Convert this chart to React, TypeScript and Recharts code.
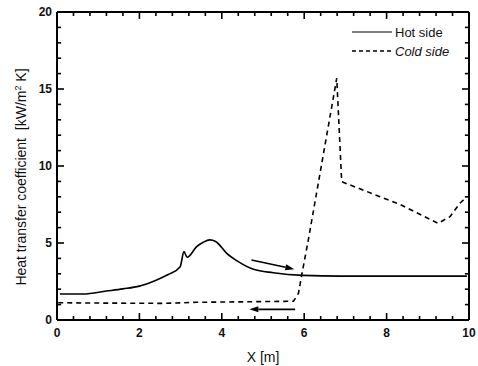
import React from "react";
import { LineChart, Line, XAxis, YAxis, ReferenceLine } from "recharts";

// hot side (solid)
const hotX = [0.07, 0.64, 1.2, 1.6, 2.0, 2.42, 2.7, 2.99, 3.08, 3.16, 3.39, 3.55, 3.71, 3.85, 4.12, 4.4, 4.77, 5.25, 5.98, 6.87, 8.0, 9.95];
const hotY = [1.69, 1.69, 1.88, 2.02, 2.2, 2.6, 2.95, 3.46, 4.44, 4.07, 4.76, 5.05, 5.2, 5.1, 4.33, 3.79, 3.29, 3.07, 2.9, 2.85, 2.85, 2.85];

// cold side (dashed)
const coldX = [0.03, 1.0, 2.6, 3.4, 4.5, 5.74, 5.86, 5.94, 6.1, 6.79, 6.91, 8.33, 9.25, 9.54, 9.78, 9.95];
const coldY = [1.12, 1.1, 1.08, 1.15, 1.18, 1.22, 1.73, 2.92, 5.2, 15.7, 8.98, 7.5, 6.28, 6.71, 7.58, 8.0];

const xTicks = [0, 0.4, 0.8, 1.2, 1.6, 2, 2.4, 2.8, 3.2, 3.6, 4, 4.4, 4.8, 5.2, 5.6, 6, 6.4, 6.8, 7.2, 7.6, 8, 8.4, 8.8, 9.2, 9.6, 10];
const xMajor = [0, 2, 4, 6, 8, 10];
const yTicks = [0, 1, 2, 3, 4, 5, 6, 7, 8, 9, 10, 11, 12, 13, 14, 15, 16, 17, 18, 19, 20];
const yMajor = [0, 5, 10, 15, 20];

// flow direction arrows [x1, y1, x2, y2]
const arrowHot = [4.72, 3.9, 5.76, 3.3];
const arrowCold = [5.78, 0.69, 4.67, 0.69];

// one table keyed on x, each series fills its own column
const data = [
  ...hotX.map((x, i) => ({ x, hot: hotY[i] as number | undefined, cold: undefined as number | undefined })),
  ...coldX.map((x, i) => ({ x, hot: undefined as number | undefined, cold: coldY[i] as number | undefined })),
].sort((a, b) => a.x - b.x);

const FONT = "'Liberation Sans', Arial, Helvetica, sans-serif";
const isMajor = (v: number, list: number[]) => list.some((m) => Math.abs(m - v) < 1e-6);

// inward tick lengths in axis units (≈7px major, ≈4px minor)
const X_LEN_MAJOR = 0.17;
const X_LEN_MINOR = 0.1;
const Y_LEN_MAJOR = 0.45;
const Y_LEN_MINOR = 0.26;

const bottomTick = (p: any) => {
  const v = p.payload.value;
  if (!isMajor(v, xMajor)) return <g />;
  return (
    <text x={p.x} y={p.y + 17} textAnchor="middle" fontSize={12} fontWeight="bold" fontFamily={FONT} fill="#111">
      {v}
    </text>
  );
};

const leftTick = (p: any) => {
  const v = p.payload.value;
  if (!isMajor(v, yMajor)) return <g />;
  return (
    <text x={p.x - 5} y={p.y + 4} textAnchor="end" fontSize={12} fontWeight="bold" fontFamily={FONT} fill="#111">
      {v}
    </text>
  );
};

const TickMark = (p: any) => (
  <line x1={p.x1} y1={p.y1} x2={p.x2} y2={p.y2} stroke="#000" strokeWidth={1.6} />
);

const Arrow = (p: any) => {
  const { x1, y1, x2, y2 } = p;
  const ang = Math.atan2(y2 - y1, x2 - x1);
  const L = 9;
  const W = 3;
  const bx = x2 - L * Math.cos(ang);
  const by = y2 - L * Math.sin(ang);
  const nx = -Math.sin(ang) * W;
  const ny = Math.cos(ang) * W;
  return (
    <g>
      <line x1={x1} y1={y1} x2={bx} y2={by} stroke="#000" strokeWidth={1.6} />
      <polygon points={`${x2},${y2} ${bx + nx},${by + ny} ${bx - nx},${by - ny}`} fill="#000" />
    </g>
  );
};

const frame = { stroke: "#000", strokeWidth: 2 };

export default function App() {
  return (
    <div style={{ position: "absolute", left: 0, top: 0, width: 478, height: 366, background: "#fff" }}>
      <LineChart width={478} height={366} data={data} margin={{ top: 0, right: 0, left: 0, bottom: 0 }}>
        <XAxis
          dataKey="x"
          type="number"
          domain={[0, 10]}
          ticks={xTicks}
          interval={0}
          height={46}
          tickSize={0}
          tickMargin={0}
          tickLine={false}
          axisLine={frame}
          tick={bottomTick}
          label={{ value: "X [m]", position: "insideBottom", offset: 4, fontSize: 14, fontFamily: FONT, fill: "#111" }}
        />
        <XAxis
          xAxisId="top"
          orientation="top"
          dataKey="x"
          type="number"
          domain={[0, 10]}
          height={12}
          tickLine={false}
          axisLine={frame}
          tick={false}
        />
        <YAxis
          type="number"
          domain={[0, 20]}
          ticks={yTicks}
          interval={0}
          width={57}
          tickSize={0}
          tickMargin={0}
          tickLine={false}
          axisLine={frame}
          tick={leftTick}
        />
        <YAxis
          yAxisId="right"
          orientation="right"
          type="number"
          domain={[0, 20]}
          width={9}
          tickLine={false}
          axisLine={frame}
          tick={false}
        />
        {/* invisible series so the top and right frame axes get drawn */}
        <Line
          dataKey="hot"
          xAxisId="top"
          yAxisId="right"
          stroke="none"
          dot={false}
          connectNulls
          legendType="none"
          isAnimationActive={false}
        />
        <Line
          dataKey="hot"
          name="Hot side"
          type="monotone"
          stroke="#000"
          strokeWidth={1.6}
          dot={false}
          connectNulls
          isAnimationActive={false}
        />
        <Line
          dataKey="cold"
          name="Cold side"
          type="linear"
          stroke="#000"
          strokeWidth={1.6}
          strokeDasharray="5 4"
          dot={false}
          connectNulls
          isAnimationActive={false}
        />
        {/* inward tick marks on all four sides of the frame */}
        {xTicks.map((v) => {
          const len = isMajor(v, xMajor) ? Y_LEN_MAJOR : Y_LEN_MINOR;
          return [
            <ReferenceLine key={`b${v}`} segment={[{ x: v, y: 0 }, { x: v, y: len }]} shape={<TickMark />} ifOverflow="visible" />,
            <ReferenceLine key={`t${v}`} segment={[{ x: v, y: 20 }, { x: v, y: 20 - len }]} shape={<TickMark />} ifOverflow="visible" />,
          ];
        })}
        {yTicks.map((v) => {
          const len = isMajor(v, yMajor) ? X_LEN_MAJOR : X_LEN_MINOR;
          return [
            <ReferenceLine key={`l${v}`} segment={[{ x: 0, y: v }, { x: len, y: v }]} shape={<TickMark />} ifOverflow="visible" />,
            <ReferenceLine key={`r${v}`} segment={[{ x: 10, y: v }, { x: 10 - len, y: v }]} shape={<TickMark />} ifOverflow="visible" />,
          ];
        })}
        <ReferenceLine
          segment={[{ x: arrowHot[0], y: arrowHot[1] }, { x: arrowHot[2], y: arrowHot[3] }]}
          shape={<Arrow />}
          ifOverflow="visible"
        />
        <ReferenceLine
          segment={[{ x: arrowCold[0], y: arrowCold[1] }, { x: arrowCold[2], y: arrowCold[3] }]}
          shape={<Arrow />}
          ifOverflow="visible"
        />
      </LineChart>
      {/* legend */}
      <svg width={120} height={40} style={{ position: "absolute", left: 352, top: 26 }}>
        <line x1={0} x2={40} y1={6} y2={6} stroke="#000" strokeWidth={1.2} />
        <text x={43} y={11} fontSize={13} fontFamily={FONT} fill="#111">
          Hot side
        </text>
        <line x1={0} x2={40} y1={25} y2={25} stroke="#000" strokeWidth={1.5} strokeDasharray="4 3" />
        <text x={43} y={30} fontSize={13} fontStyle="italic" fontFamily={FONT} fill="#111">
          Cold side
        </text>
      </svg>
      {/* y axis title */}
      <svg width={40} height={300} style={{ position: "absolute", left: 0, top: 20 }}>
        <text transform="translate(26 157) rotate(-90)" textAnchor="middle" fontSize={14} fontFamily={FONT} fill="#111">
          Heat transfer coefficient{"\u00a0\u00a0"}[kW/m
          <tspan dy={-5} fontSize={9}>2</tspan>
          <tspan dy={5}> K]</tspan>
        </text>
      </svg>
    </div>
  );
}
